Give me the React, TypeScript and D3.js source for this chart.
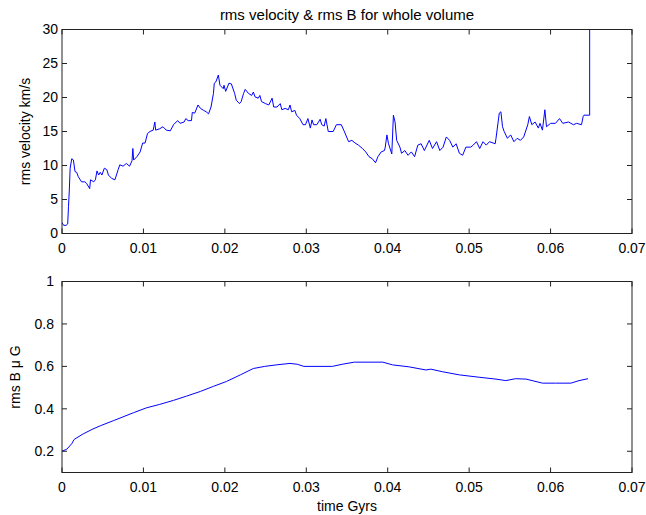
import React from 'react';
import * as d3 from 'd3';

// rms velocity (km/s) vs time (Gyrs)
const velT = [
  0, 0.0002, 0.0005, 0.0007, 0.0008, 0.0009, 0.001, 0.0012, 0.0014, 0.0016, 0.0018, 0.002,
  0.0024, 0.0028, 0.003, 0.0034, 0.0035, 0.0039, 0.0041, 0.0043, 0.0045, 0.0047, 0.0049,
  0.0052, 0.0055, 0.0057, 0.0061, 0.0065, 0.0069, 0.0071, 0.0075, 0.0079, 0.0083, 0.0086,
  0.0087, 0.0088, 0.0092, 0.0096, 0.0099, 0.0102, 0.0105, 0.0108, 0.0112, 0.0114, 0.0115,
  0.012, 0.0124, 0.0128, 0.0133, 0.0137, 0.0142, 0.0145, 0.015, 0.0152, 0.0155, 0.0159,
  0.016, 0.0163, 0.0167, 0.017, 0.0174, 0.0177, 0.018, 0.0183, 0.0186, 0.0187, 0.0189,
  0.0192, 0.0194, 0.0198, 0.0199, 0.0201, 0.0205, 0.0208, 0.0212, 0.0214, 0.0218, 0.022,
  0.0223, 0.0225, 0.0229, 0.0233, 0.0235, 0.0237, 0.0241, 0.0243, 0.0245, 0.025, 0.0254,
  0.0258, 0.026, 0.0264, 0.0268, 0.027, 0.0274, 0.0278, 0.028, 0.0282, 0.0286, 0.0288,
  0.0292, 0.0296, 0.0299, 0.0302, 0.0305, 0.0307, 0.0309, 0.0313, 0.0317, 0.0319, 0.0322,
  0.0324, 0.0327, 0.0333, 0.0337, 0.0343, 0.0346, 0.0352, 0.0356, 0.036, 0.0364, 0.0369,
  0.0373, 0.0377, 0.0381, 0.0385, 0.0388, 0.0392, 0.0396, 0.0397, 0.0399, 0.0401, 0.0405,
  0.0407, 0.0409, 0.0411, 0.0415, 0.0417, 0.0421, 0.0425, 0.0429, 0.0433, 0.0437, 0.0441,
  0.0445, 0.0451, 0.0455, 0.046, 0.0464, 0.0468, 0.0472, 0.0476, 0.048, 0.0484, 0.0488,
  0.0492, 0.0496, 0.0502, 0.0505, 0.0509, 0.0513, 0.0517, 0.0521, 0.0525, 0.0532, 0.0533,
  0.0537, 0.0539, 0.0541, 0.0543, 0.0547, 0.0551, 0.0555, 0.0559, 0.0563, 0.0567, 0.0572,
  0.0574, 0.0577, 0.0581, 0.0585, 0.0587, 0.059, 0.0593, 0.0595, 0.06, 0.0606, 0.0611,
  0.0615, 0.0622, 0.0628, 0.0632, 0.0638, 0.064, 0.0641, 0.0648, 0.0648,
];
const velV = [
  1.6, 1.2, 1.2, 1.4, 4.0, 6.4, 9.6, 11.0, 10.8, 9.1, 9.0, 8.35,
  7.6, 7.6, 7.4, 6.6, 7.9, 7.6, 7.9, 9.2, 8.6, 9.0, 8.6,
  9.6, 9.4, 8.6, 8.1, 7.9, 9.4, 10.1, 9.9, 10.3, 9.9, 10.7,
  12.5, 10.8, 11.3, 12.0, 13.3, 13.3, 14.7, 15.0, 15.2, 16.4, 15.2,
  15.4, 15.7, 15.2, 15.1, 16.0, 16.6, 16.2, 16.4, 16.9, 16.6, 16.6,
  17.8, 17.7, 18.9, 18.4, 18.1, 17.9, 17.6, 18.6, 20.6, 22.1, 22.3,
  23.3, 21.8, 21.3, 21.8, 20.9, 22.1, 22.0, 20.6, 19.6, 19.1, 19.4,
  20.6, 21.2, 20.6, 20.3, 20.8, 20.1, 19.9, 20.3, 19.4, 19.1, 18.9,
  19.9, 18.6, 18.6, 19.1, 18.2, 18.4, 18.2, 18.9, 17.9, 18.1, 17.4,
  16.9, 16.0, 16.0, 16.9, 15.5, 16.7, 16.0, 16.0, 16.8, 16.0, 15.8,
  16.9, 15.0, 15.0, 16.0, 16.0, 15.2, 13.5, 13.7, 13.3, 13.0, 12.5,
  12.0, 11.3, 11.0, 10.4, 11.3, 12.0, 12.2, 12.7, 14.5, 13.2, 11.7,
  17.4, 16.4, 13.7, 12.7, 11.8, 12.2, 11.5, 12.0, 11.3, 13.0, 13.2,
  12.2, 13.7, 12.5, 13.5, 12.2, 12.7, 14.2, 13.7, 12.7, 13.2, 11.8,
  11.5, 12.7, 12.7, 13.0, 13.5, 12.5, 13.5, 13.0, 13.5, 13.2, 14.0,
  17.7, 17.9, 15.7, 15.0, 14.0, 14.5, 13.5, 14.0, 13.7, 14.2, 16.0,
  17.2, 16.0, 16.4, 15.5, 16.2, 15.2, 18.2, 15.7, 16.2, 16.2, 16.9,
  16.2, 16.4, 16.0, 16.2, 16.0, 17.2, 17.4, 17.4, 45,
];

// rms B (micro Gauss) vs time
const bT = [
  0, 0.0006, 0.0012, 0.0015, 0.0026, 0.0038, 0.0047, 0.0063, 0.0088, 0.0104, 0.012,
  0.0137, 0.0153, 0.017, 0.0186, 0.0202, 0.0219, 0.0235, 0.0249, 0.0263, 0.028, 0.0289,
  0.0297, 0.0332, 0.0344, 0.0359, 0.0394, 0.0406, 0.0426, 0.0447, 0.0453, 0.0467, 0.0488,
  0.0512, 0.0533, 0.0545, 0.0557, 0.057, 0.059, 0.0606, 0.0625, 0.0635, 0.0646,
];
const bV = [
  0.2, 0.21, 0.236, 0.256, 0.282, 0.305, 0.32, 0.344, 0.382, 0.405, 0.421,
  0.44, 0.46, 0.482, 0.506, 0.529, 0.56, 0.59, 0.6, 0.607, 0.614, 0.61,
  0.6, 0.6, 0.61, 0.62, 0.62, 0.607, 0.598, 0.583, 0.587, 0.575, 0.56,
  0.549, 0.54, 0.533, 0.542, 0.54, 0.521, 0.521, 0.521, 0.533, 0.542,
];

const xTicks = [0, 0.01, 0.02, 0.03, 0.04, 0.05, 0.06, 0.07];
const velTicks = [0, 5, 10, 15, 20, 25, 30];
const bTicks = [0.2, 0.4, 0.6, 0.8, 1];

const W = 646;
const H = 515;
const left = 62;
const right = 632;
const font = "'Liberation Sans', Arial, sans-serif";
const axisColor = '#222';
const tickLen = 5;

const Panel = ({ id, top, bottom, domain, yTicks, xs, ys, labelEnd, yTickFmt }) => {
  const x = d3.scaleLinear().domain([0, 0.07]).range([left, right]);
  const y = d3.scaleLinear().domain(domain).range([bottom, top]);
  const line = d3
    .line<number>()
    .x((d, i) => x(xs[i]))
    .y((d) => y(d));
  return (
    <g>
      <clipPath id={id}>
        <rect x={left} y={top} width={right - left} height={bottom - top} />
      </clipPath>
      <path d={line(ys) || ''} fill="none" stroke="#0000ff" strokeWidth={1} clipPath={`url(#${id})`} />
      <rect x={left} y={top} width={right - left} height={bottom - top} fill="none" stroke={axisColor} strokeWidth={1} />
      {xTicks.map((t) => (
        <g key={'x' + t}>
          <line x1={x(t)} x2={x(t)} y1={bottom} y2={bottom - tickLen} stroke={axisColor} />
          <line x1={x(t)} x2={x(t)} y1={top} y2={top + tickLen} stroke={axisColor} />
          <text x={x(t)} y={bottom + 19} textAnchor="middle" fontSize={14} fontFamily={font} fill="#000">
            {t === 0 ? '0' : t.toFixed(2)}
          </text>
        </g>
      ))}
      {yTicks.map((t) => (
        <g key={'y' + t}>
          <line x1={left} x2={left + tickLen} y1={y(t)} y2={y(t)} stroke={axisColor} />
          <line x1={right} x2={right - tickLen} y1={y(t)} y2={y(t)} stroke={axisColor} />
          <text x={labelEnd} y={y(t)} dy="0.35em" textAnchor="end" fontSize={14} fontFamily={font} fill="#000">
            {yTickFmt(t)}
          </text>
        </g>
      ))}
    </g>
  );
};

export default function App() {
  return (
    <svg width={W} height={H} style={{ display: 'block', position: 'absolute', left: 0, top: 0, background: '#fff' }}>
      <rect width={W} height={H} fill="#fff" />
      <text x={(left + right) / 2} y={20} textAnchor="middle" fontSize={15} fontFamily={font}>
        rms velocity &amp; rms B for whole volume
      </text>
      <Panel
        id="clipTop"
        top={29.5}
        bottom={233.5}
        domain={[0, 30]}
        yTicks={velTicks}
        xs={velT}
        ys={velV}
        labelEnd={58}
        yTickFmt={(t) => String(t)}
      />
      <text transform={`translate(30,${(29.5 + 233.5) / 2}) rotate(-90)`} textAnchor="middle" fontSize={14} fontFamily={font}>
        rms velocity km/s
      </text>
      <Panel
        id="clipBottom"
        top={281.5}
        bottom={472.5}
        domain={[0.1, 1]}
        yTicks={bTicks}
        xs={bT}
        ys={bV}
        labelEnd={54}
        yTickFmt={(t) => (t === 1 ? '1' : t.toFixed(1))}
      />
      <text transform={`translate(20,${(281.5 + 472.5) / 2}) rotate(-90)`} textAnchor="middle" fontSize={14} fontFamily={font}>
        rms B μ G
      </text>
      <text x={(left + right) / 2} y={511} textAnchor="middle" fontSize={14} fontFamily={font}>
        time Gyrs
      </text>
    </svg>
  );
}
